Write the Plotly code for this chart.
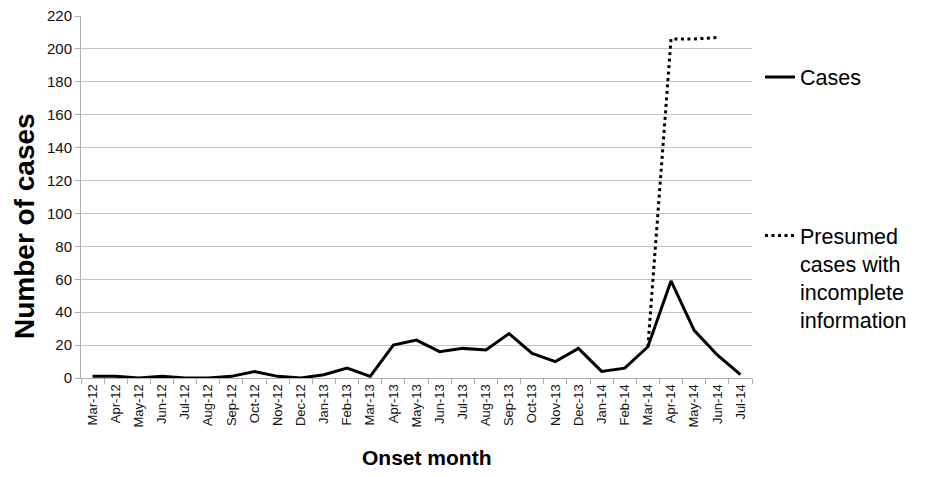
import plotly.graph_objects as go

months = ["Mar-12", "Apr-12", "May-12", "Jun-12", "Jul-12", "Aug-12", "Sep-12", "Oct-12",
          "Nov-12", "Dec-12", "Jan-13", "Feb-13", "Mar-13", "Apr-13", "May-13", "Jun-13",
          "Jul-13", "Aug-13", "Sep-13", "Oct-13", "Nov-13", "Dec-13", "Jan-14", "Feb-14",
          "Mar-14", "Apr-14", "May-14", "Jun-14", "Jul-14"]
cases = [1, 1, 0, 1, 0, 0, 1, 4, 1, 0, 2, 6, 1, 20, 23, 16, 18, 17, 27, 15, 10, 18, 4, 6,
         19, 59, 29, 14, 2]
presumed = [None] * 24 + [19, 206, 206, 207, None]
y_ticks = list(range(0, 221, 20))

FONT = "Liberation Sans, Arial, sans-serif"

# page has an 8px body margin; size the figure to fit the 932x477 window
OFF = 8
W, H = 932 - 2 * OFF, 477 - 2 * OFF
# plot area in window pixels (from the reference)
PL, PR, PT, PB = 81, 752, 16, 378
L, R, T, B = PL - OFF, W - (PR - OFF), PT - OFF, H - (PB - OFF)
pw = PR - PL
ph = PB - PT

def px_x(p):
    return (p - PL) / pw

def px_y(p):
    return (PB - p) / ph

fig = go.Figure()
fig.add_trace(go.Scatter(
    x=months, y=cases, mode="lines", name="Cases",
    line=dict(color="black", width=3), legend="legend", showlegend=True))
fig.add_trace(go.Scatter(
    x=months, y=presumed, mode="lines",
    name="Presumed<br>cases with<br>incomplete<br>information",
    line=dict(color="black", width=3, dash="3px,3.5px"), legend="legend2",
    showlegend=True))

fig.update_layout(
    width=W, height=H, autosize=False,
    margin=dict(l=L, r=R, t=T, b=B),
    paper_bgcolor="white", plot_bgcolor="white",
    showlegend=True,
    font=dict(family=FONT, color="black"),
    legend=dict(x=px_x(760), y=px_y(77), xanchor="left", yanchor="middle",
                font=dict(size=21.5, color="black"), bgcolor="rgba(0,0,0,0)",
                visible=True),
    legend2=dict(x=px_x(760), y=px_y(215), xanchor="left", yanchor="top",
                 valign="top", visible=True,
                 font=dict(size=21.5, color="black"), bgcolor="rgba(0,0,0,0)"),
    xaxis=dict(
        type="category", categoryorder="array", categoryarray=months,
        tickangle=-90, tickfont=dict(size=13, color="#111"),
        showgrid=False, showline=True, linecolor="#b0b0b0", linewidth=1,
        ticks="outside", ticklen=5, tickcolor="#b0b0b0", tickson="boundaries",
        range=[-0.5, len(months) - 0.5], zeroline=False, automargin=False),
    yaxis=dict(
        range=[0, 220], tickvals=y_ticks, tickfont=dict(size=15, color="#111"),
        showgrid=True, gridcolor="#c4c4c4", gridwidth=1,
        showline=True, linecolor="#b0b0b0", linewidth=1,
        ticks="outside", ticklen=5, tickcolor="#b0b0b0", zeroline=False,
        automargin=False, ticklabeloverflow="allow"),
    annotations=[
        dict(text="<b>Number of cases</b>", xref="paper", yref="paper",
             x=px_x(24), y=px_y(226), xanchor="center", yanchor="middle",
             textangle=-90, showarrow=False, font=dict(size=28, color="black")),
        dict(text="<b>Onset month</b>", xref="paper", yref="paper",
             x=px_x(427), y=px_y(458), xanchor="center", yanchor="middle",
             showarrow=False, font=dict(size=21, color="black")),
    ],
)

fig.write_html("out.html")
